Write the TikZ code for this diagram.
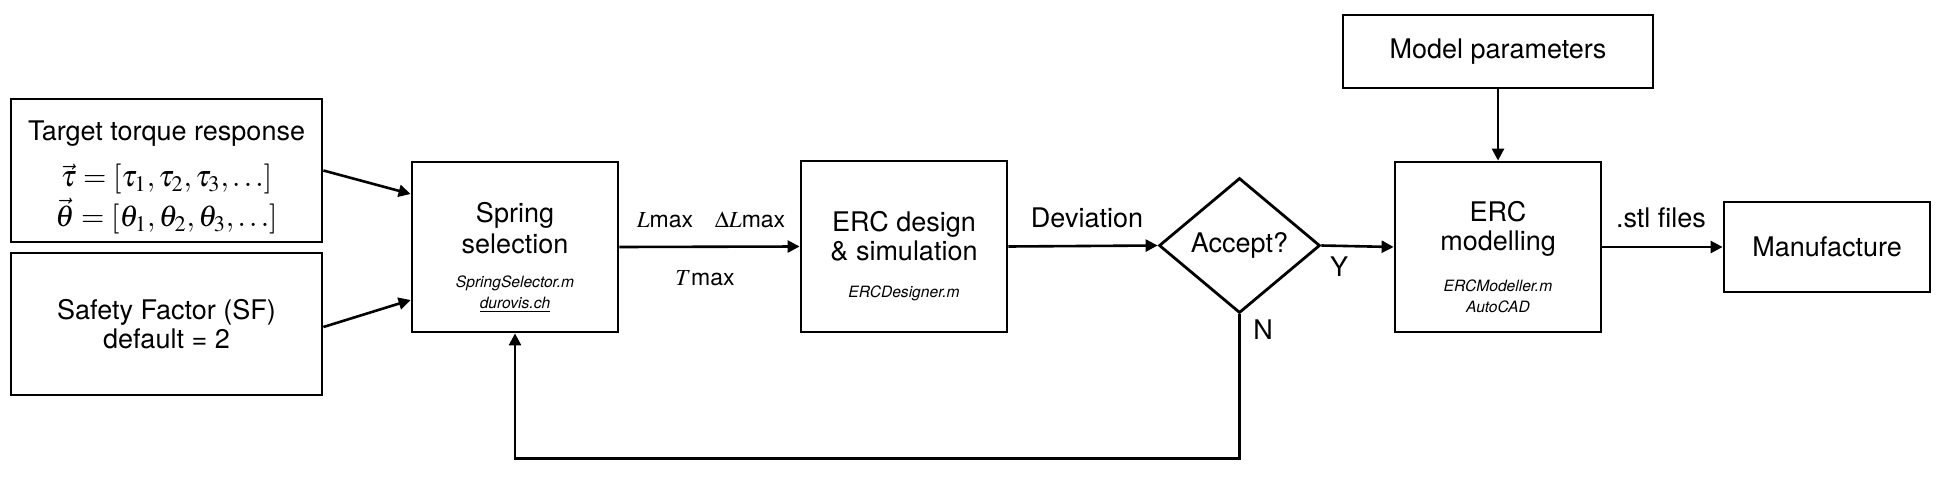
\documentclass[tikz,border=0pt]{standalone}
\usepackage{mathptmx}
\usepackage{fontspec}
\setmainfont{TeX Gyre Heros}
\usetikzlibrary{arrows.meta,shapes.geometric}
\newcommand{\smitfont}{\fontsize{7.8}{9}\selectfont\itshape}
\newcommand{\bigmathfont}{\fontsize{15}{18}\selectfont}
\newcommand{\topstrut}{\rule{0pt}{20pt}}
\begin{document}
\begin{tikzpicture}[x=0.5pt,y=-0.5pt,
  box/.style={draw,line width=1.4pt,rectangle,align=center,inner sep=0pt,font=\fontsize{13.5}{14.5}\selectfont},
  dia/.style={draw,line width=1.4pt,diamond,aspect=1.19,inner sep=0pt,minimum width=80.5pt,minimum height=67.5pt,font=\fontsize{13.5}{14.5}\selectfont},
  arr/.style={line width=1.3pt,-{Triangle[length=6pt,width=6pt]}},
  lbl/.style={font=\fontsize{13.5}{14.5}\selectfont,inner sep=0pt},
  mlbl/.style={font=\fontsize{11.5}{13}\selectfont,inner sep=0pt}]
\useasboundingbox (0,0) rectangle (1946,476);
\node[box,minimum width=155.5pt,minimum height=71.5pt] (tgt) at (166.5,170.5)
  {\rule{0pt}{17pt}Target torque response\\[8.5pt]{\bigmathfont$\vec{\tau}=[\tau_1,\tau_2,\tau_3,\dots]$}\\[1pt]{\bigmathfont$\vec{\theta}=[\theta_1,\theta_2,\theta_3,\dots]$}};
\node[box,minimum width=155.5pt,minimum height=71pt] (sf) at (166.5,324)
  {Safety Factor (SF)\\default = 2};
\node[box,minimum width=103pt,minimum height=85pt] (spr) at (515,247)
  {\topstrut Spring\\[1.2pt]selection\\[2.5pt]{\smitfont SpringSelector.m}\\[-4pt]{\smitfont\underline{durovis.ch}}};
\node[box,minimum width=103pt,minimum height=85.5pt] (des) at (904,246.5)
  {\topstrut ERC design\\\&\ simulation\\[4pt]{\smitfont ERCDesigner.m}};
\node[dia] (acc) at (1239.5,245.5) {Accept?};
\node[box,minimum width=103pt,minimum height=85pt] (mod) at (1498,247)
  {\topstrut ERC\\modelling\\[6pt]{\smitfont ERCModeller.m}\\[-4pt]{\smitfont AutoCAD}};
\node[box,minimum width=155pt,minimum height=36.5pt] (par) at (1498,51.5) {Model parameters};
\node[box,minimum width=103pt,minimum height=45pt] (man) at (1827,247) {Manufacture};

\draw[arr] (tgt.east) -- ([yshift=26.5pt]spr.west);
\draw[arr] ([yshift=-1.5pt]sf.east) -- ([yshift=-26.5pt]spr.west);
\draw[arr] (spr.east) -- (des.west);
\draw[arr] (des.east) -- (acc.west);
\draw[arr] (acc.east) -- (mod.west);
\draw[arr] (par.south) -- (mod.north);
\draw[arr] (mod.east) -- (man.west);
\draw[arr] (acc.south) -- ++(0,144) -| (spr.south);

\node[mlbl] (l1) at (665,220) {$L$max};
\node[mlbl] (l2) at (750,220) {$\Delta L$max};
\node[mlbl] (l3) at (705,278) {$T$max};
\node[lbl] (l4) at (1087,218) {Deviation};
\node[lbl] (l5) at (1339,267) {Y};
\node[lbl] (l6) at (1263,330) {N};
\node[lbl] (l7) at (1661,218) {.stl files};
\end{tikzpicture}
\end{document}
